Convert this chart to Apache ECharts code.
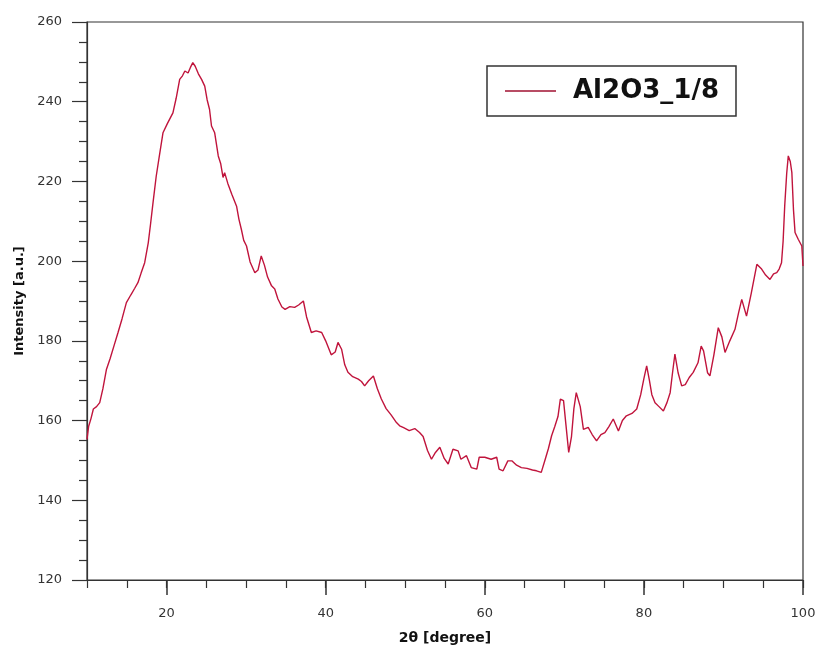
<!DOCTYPE html>
<html>
<head>
<meta charset="utf-8">
<script src="https://cdn.jsdelivr.net/npm/echarts@6/dist/echarts.min.js"></script>
<style>html,body{margin:0;padding:0;background:#fff}#c{width:819px;height:650px}</style>
</head>
<body>
<div id="c"></div>
<script>
const seriesName = 'Al2O3_1/8';
const twoTheta = [10.0,10.2,10.5,10.8,11.2,11.6,12.0,12.45,12.9,13.4,13.9,14.4,14.95,15.5,16.0,16.4,16.8,17.25,17.7,18.0,18.3,18.7,19.1,19.55,20.1,20.8,21.2,21.65,22.0,22.3,22.7,23.0,23.3,23.6,24.0,24.4,24.8,25.1,25.4,25.65,26.05,26.5,26.8,27.1,27.3,27.7,28.2,28.8,29.1,29.4,29.7,30.05,30.5,31.1,31.5,31.9,32.3,32.7,33.2,33.6,34.0,34.5,34.9,35.5,36.1,36.6,37.2,37.6,38.2,38.8,39.5,40.0,40.7,41.2,41.55,42.0,42.4,42.8,43.4,44.1,44.5,44.9,45.4,46.0,46.5,47.0,47.6,48.2,48.9,49.3,49.8,50.5,51.2,51.8,52.25,52.8,53.3,53.8,54.35,54.9,55.4,56.0,56.65,57.0,57.7,58.3,59.0,59.3,60.0,60.8,61.5,61.8,62.3,62.9,63.4,64.0,64.6,65.3,66.0,66.5,67.1,67.6,68.0,68.4,68.8,69.2,69.5,69.9,70.2,70.55,70.9,71.2,71.5,71.75,72.0,72.4,73.0,73.5,74.05,74.6,75.1,75.6,76.15,76.8,77.3,77.8,78.5,79.1,79.6,80.0,80.35,80.7,81.0,81.4,81.9,82.45,82.9,83.3,83.6,83.9,84.3,84.75,85.2,85.7,86.2,86.8,87.2,87.5,88.0,88.3,88.8,89.35,89.8,90.2,90.8,91.45,91.9,92.3,92.9,93.5,94.2,94.8,95.3,95.85,96.3,96.7,97.0,97.3,97.5,97.7,97.95,98.15,98.4,98.6,98.8,99.0,99.4,99.85,100.0];
const intensity = [155.3,158.5,160.5,162.9,163.5,164.5,168.0,172.9,175.5,178.8,182.1,185.5,189.6,191.5,193.2,194.6,197.0,199.6,204.6,209.5,214.7,221.3,226.5,232.2,234.5,237.2,240.8,245.6,246.5,247.7,247.2,248.6,249.8,248.9,247.0,245.6,243.9,240.5,238.1,233.9,232.2,226.4,224.5,221.0,222.2,219.5,216.8,213.8,210.5,208.0,205.2,203.8,199.8,197.1,197.8,201.3,199.0,196.0,193.8,193.0,190.5,188.5,187.9,188.6,188.4,189.0,190.0,186.0,182.1,182.5,182.1,180.0,176.5,177.2,179.6,177.9,174.0,172.1,171.0,170.4,169.8,168.7,170.0,171.2,168.0,165.4,163.0,161.5,159.5,158.7,158.2,157.5,158.0,157.0,156.0,152.5,150.3,152.0,153.3,150.5,149.1,152.8,152.4,150.3,151.2,148.2,147.8,150.8,150.8,150.3,150.8,147.8,147.4,149.9,149.9,148.8,148.2,148.0,147.6,147.4,147.0,150.3,153.0,156.2,158.5,161.0,165.4,165.0,159.0,152.0,156.0,163.0,167.0,167.4,163.5,157.8,158.3,156.5,154.9,156.5,157.0,158.5,160.4,157.4,160.0,161.2,161.8,162.9,166.5,170.5,173.7,170.0,166.5,164.5,163.5,162.4,164.5,167.0,172.0,176.7,172.0,168.7,169.0,170.8,172.1,174.5,178.7,177.5,172.0,171.2,176.5,183.3,181.0,177.1,180.0,182.9,187.0,190.4,186.2,192.0,199.2,198.0,196.5,195.4,196.8,197.1,198.0,199.6,205.0,213.8,222.0,226.4,225.0,222.2,213.0,207.2,205.5,203.8,198.8];
const xMajorTicks = [20, 40, 60, 80, 100];
const xRange = [10, 100];
const yRange = [120, 260];

const chart = echarts.init(document.getElementById('c'), null, {renderer: 'canvas'});
const font = 'DejaVu Sans, Verdana, sans-serif';
const axisColor = '#333';
const data = twoTheta.map((x, i) => [x, intensity[i]]);

chart.setOption({
  animation: false,
  backgroundColor: '#fff',
  grid: {left: 87, right: 16, top: 22, bottom: 69, show: true, borderColor: axisColor, borderWidth: 1.2, backgroundColor: 'transparent'},
  legend: {
    left: 487, top: 66,
    padding: [12, 17, 12, 18],
    borderColor: axisColor, borderWidth: 1.5,
    itemWidth: 51, itemHeight: 1.5, itemGap: 10,
    data: [{name: seriesName, icon: 'rect'}],
    textStyle: {fontFamily: font, fontSize: 26, fontWeight: 'bold', color: '#111', padding: [0, 0, 0, 12]}
  },
  xAxis: [{
    type: 'value', min: xRange[0], max: xRange[1], interval: 5,
    splitLine: {show: false},
    axisLine: {lineStyle: {color: axisColor, width: 1.2}},
    axisTick: {show: true, length: 8, lineStyle: {color: axisColor, width: 1.2}},
    axisLabel: {customValues: xMajorTicks, margin: 27, fontFamily: font, fontSize: 13, color: '#333'},
    name: '2θ [degree]', nameLocation: 'middle', nameGap: 51,
    nameTextStyle: {fontFamily: font, fontSize: 14, fontWeight: 'bold', color: '#111'}
  }, {
    type: 'value', min: xRange[0], max: xRange[1], position: 'bottom', show: true,
    splitLine: {show: false},
    axisLine: {show: true, lineStyle: {color: axisColor, width: 1.2}},
    axisTick: {show: true, customValues: xMajorTicks, length: 15, lineStyle: {color: axisColor, width: 1.5}},
    axisLabel: {show: false}
  }],
  yAxis: {
    type: 'value', min: yRange[0], max: yRange[1], interval: 20,
    splitLine: {show: false},
    axisLine: {show: true, lineStyle: {color: axisColor, width: 1.2}},
    axisTick: {show: true, length: 15, lineStyle: {color: axisColor, width: 1.2}},
    minorTick: {show: true, splitNumber: 4, length: 8, lineStyle: {color: axisColor, width: 1.2}},
    axisLabel: {margin: 25, fontFamily: font, fontSize: 13, color: '#333'},
    name: 'Intensity [a.u.]', nameLocation: 'middle', nameGap: 60,
    nameTextStyle: {fontFamily: font, fontSize: 13, fontWeight: 'bold', color: '#111'}
  },
  series: [{
    name: seriesName, type: 'line', xAxisIndex: 0, data: data,
    showSymbol: false, symbol: 'none',
    lineStyle: {color: '#c0143c', width: 1.4},
    itemStyle: {color: '#a01030'}
  }]
});
</script>
</body>
</html>
